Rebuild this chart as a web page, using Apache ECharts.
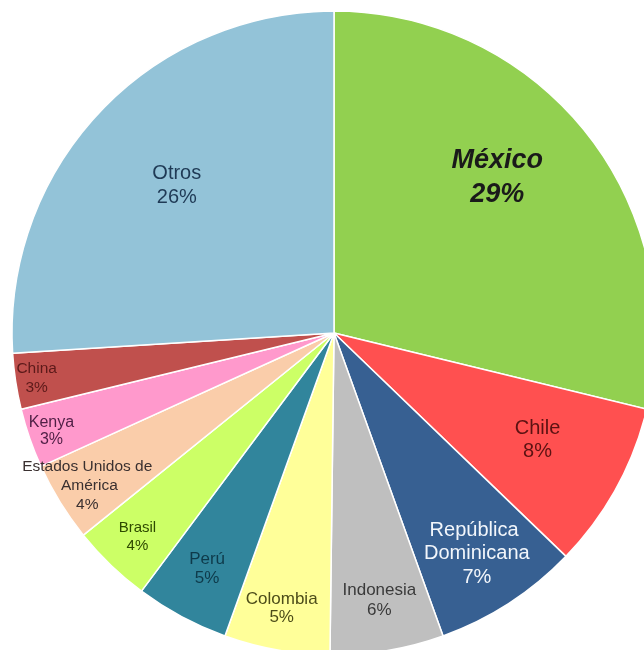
<!DOCTYPE html>
<html><head><meta charset="utf-8">
<script src="https://cdn.jsdelivr.net/npm/echarts@6/dist/echarts.min.js"></script>
<style>html,body{margin:0;padding:0;background:#fff}#c{width:644px;height:650px}</style>
</head><body><div id="c"></div>
<script>
// ---- data ----
const categories = ['México', 'Chile', 'República Dominicana', 'Indonesia', 'Colombia', 'Perú', 'Brasil', 'Estados Unidos de América', 'Kenya', 'China', 'Otros'];
const values = [28.8, 8.4, 7.3, 5.7, 5.3, 4.7, 4.0, 4.0, 3.0, 2.8, 26.0];

// ---- styles ----
const sliceColors = ['#92D050', '#FF5050', '#376092', '#BFBFBF', '#FFFF99', '#31859C', '#CCFF66', '#FACDAA', '#FF99CC', '#C0504D', '#93C3D8'];
const labelColors = ['#1a1a1a', '#5c1212', '#f2f6fb', '#3a3a3a', '#4d4d1a', '#0e3a4a', '#2e4a00', '#3a3030', '#4f1f45', '#5c1a1a', '#1f3a55'];
const fontSizes = [27, 20, 20, 17, 17, 17, 15, 15.5, 16, 15.5, 20];
const lineHeights = [34, 23, 23.5, 20, 17.5, 19, 18, 19, 17, 19, 24];
const wrapWidths = [200, 120, 140, 120, 120, 80, 80, 150, 80, 80, 100];
const radial = [1.405, 1.416, 1.602, 1.67, 1.688, 1.634, 1.728, 1.768, 1.823, 1.834, 1.315];
const shift = [[-18, -13], [0, -5], [0, 0], [0, -3], [-3, 3], [0, 0], [0, 0], [0, 0], [0, 0], [0, 0], [0, 0]];
const CX = 334, CY = 333, R = 322;

const seriesData = categories.map((name, i) => ({
  name: name,
  value: values[i],
  itemStyle: { color: sliceColors[i] },
  label: {
    color: labelColors[i],
    fontSize: fontSizes[i],
    lineHeight: lineHeights[i],
    fontWeight: i === 0 ? 'bold' : 'normal',
    fontStyle: i === 0 ? 'italic' : 'normal',
    width: wrapWidths[i],
    overflow: 'break'
  }
}));

const chart = echarts.init(document.getElementById('c'), null, { renderer: 'canvas' });
chart.setOption({
  animation: false,
  backgroundColor: '#ffffff',
  series: [{
    type: 'pie',
    center: [CX, CY],
    radius: [0, R],
    startAngle: 90,
    clockwise: true,
    avoidLabelOverlap: false,
    silent: true,
    itemStyle: { borderColor: '#ffffff', borderWidth: 1.5 },
    label: {
      show: true,
      position: 'inside',
      fontFamily: 'Liberation Sans, Arial, sans-serif',
      align: 'center',
      formatter: p => p.name + '\n' + Math.round(p.percent) + '%'
    },
    labelLine: { show: false },
    labelLayout: function (p) {
      const i = p.dataIndex;
      const r = p.labelRect;
      const lx = r.x + r.width / 2, ly = r.y + r.height / 2;
      const k = radial[i];
      return { x: CX + (lx - CX) * k + shift[i][0], y: CY + (ly - CY) * k + shift[i][1] };
    },
    data: seriesData
  }]
});
</script>
</body></html>
